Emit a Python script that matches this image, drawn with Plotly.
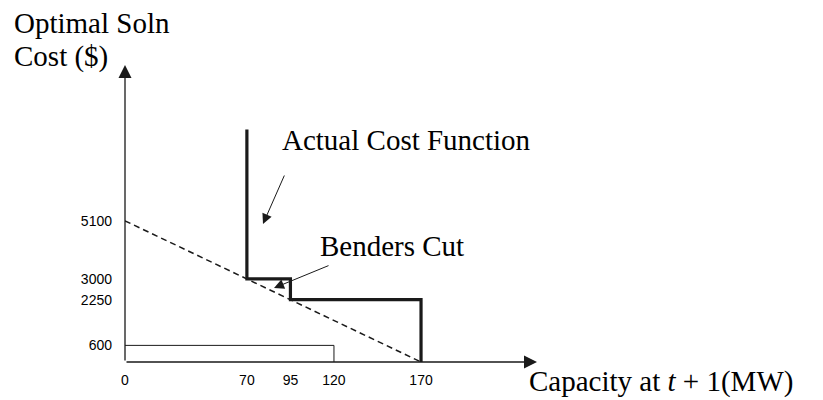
import plotly.graph_objects as go

# ---- data ----
x_ticks = [0, 70, 95, 120, 170]
y_ticks = [600, 2250, 3000, 5100]
cost_x = [70, 70, 95, 95, 170, 170]
cost_y = [8400, 3000, 3000, 2250, 2250, 0]
cut_x = [0, 170]
cut_y = [5100, 0]
guide_x = [0, 120, 120]
guide_y = [600, 600, 0]

W, H = 823, 400
ML, MR, MT, MB = 125, 286, 65, 38
PW, PH = W - ML - MR, H - MT - MB
XMAX = 236.6
YMAX = 10730


def px2x(px):
    return (px - ML) / PW * XMAX


def py2y(py):
    return (H - MB - py) / PH * YMAX


def px2p(px):
    return (px - ML) / PW


def py2p(py):
    return (H - MB - py) / PH


SERIF = "Liberation Serif"
SANS = "Liberation Sans"
INK = "#1a1a1a"
FS = 29

fig = go.Figure()
fig.add_trace(go.Scatter(x=guide_x, y=guide_y, mode="lines",
                         line=dict(color=INK, width=1), hoverinfo="skip"))
fig.add_trace(go.Scatter(x=cut_x, y=cut_y, mode="lines",
                         line=dict(color=INK, width=1.5, dash="6px,4px"), hoverinfo="skip"))
fig.add_trace(go.Scatter(x=cost_x, y=cost_y, mode="lines",
                         line=dict(color=INK, width=3.2), hoverinfo="skip"))

ann = []
# axes with arrowheads
ann.append(dict(x=XMAX, y=0, ax=0, ay=0, xref="x", yref="y", axref="x", ayref="y",
                text="", showarrow=True, arrowhead=2, arrowsize=2.0, arrowwidth=1.3,
                arrowcolor=INK, standoff=0, startstandoff=0))
ann.append(dict(x=0, y=YMAX, ax=0, ay=0, xref="x", yref="y", axref="x", ayref="y",
                text="", showarrow=True, arrowhead=2, arrowsize=2.0, arrowwidth=1.3,
                arrowcolor=INK, standoff=0, startstandoff=0))
# axis titles (paper coordinates so they can sit outside the plot area)
ann.append(dict(x=px2p(12), y=py2p(23), xref="paper", yref="paper", text="Optimal Soln",
                showarrow=False, xanchor="left", yanchor="middle",
                font=dict(family=SERIF, size=FS, color="black")))
ann.append(dict(x=px2p(12), y=py2p(57), xref="paper", yref="paper", text="Cost ($)",
                showarrow=False, xanchor="left", yanchor="middle",
                font=dict(family=SERIF, size=FS, color="black")))
ann.append(dict(x=px2p(527), y=py2p(381), xref="paper", yref="paper",
                text="Capacity at <i>t</i> + 1(MW)",
                showarrow=False, xanchor="left", yanchor="middle",
                font=dict(family=SERIF, size=FS, color="black")))
# callouts
ann.append(dict(x=px2p(280), y=py2p(140), xref="paper", yref="paper", text="Actual Cost Function",
                showarrow=False, xanchor="left", yanchor="middle",
                font=dict(family=SERIF, size=FS, color="black")))
ann.append(dict(x=px2x(263), y=py2y(224), ax=px2x(285), ay=py2y(174),
                xref="x", yref="y", axref="x", ayref="y", text="", showarrow=True,
                arrowhead=2, arrowsize=2.0, arrowwidth=1, arrowcolor=INK,
                standoff=0, startstandoff=0))
ann.append(dict(x=px2p(318), y=py2p(246), xref="paper", yref="paper", text="Benders Cut",
                showarrow=False, xanchor="left", yanchor="middle",
                font=dict(family=SERIF, size=FS, color="black")))
ann.append(dict(x=px2x(274), y=py2y(288), ax=px2x(330), ay=py2y(265),
                xref="x", yref="y", axref="x", ayref="y", text="", showarrow=True,
                arrowhead=2, arrowsize=2.0, arrowwidth=1, arrowcolor=INK,
                standoff=0, startstandoff=0))

fig.update_layout(
    width=W, height=H,
    margin=dict(l=ML, r=MR, t=MT, b=MB, pad=0),
    paper_bgcolor="white", plot_bgcolor="white",
    showlegend=False,
    annotations=ann,
    xaxis=dict(range=[0, XMAX], showgrid=False, zeroline=False, showline=False,
               tickmode="array", tickvals=x_ticks, ticktext=[str(v) for v in x_ticks],
               ticks="", ticklabelstandoff=8,
               tickfont=dict(family=SANS, size=14, color="black"), fixedrange=True),
    yaxis=dict(range=[0, YMAX], showgrid=False, zeroline=False, showline=False,
               tickmode="array", tickvals=y_ticks, ticktext=[str(v) for v in y_ticks],
               ticks="", ticklabelstandoff=12,
               tickfont=dict(family=SANS, size=14, color="black"), fixedrange=True),
)

fig.write_html("out.html", config={"displayModeBar": False})
